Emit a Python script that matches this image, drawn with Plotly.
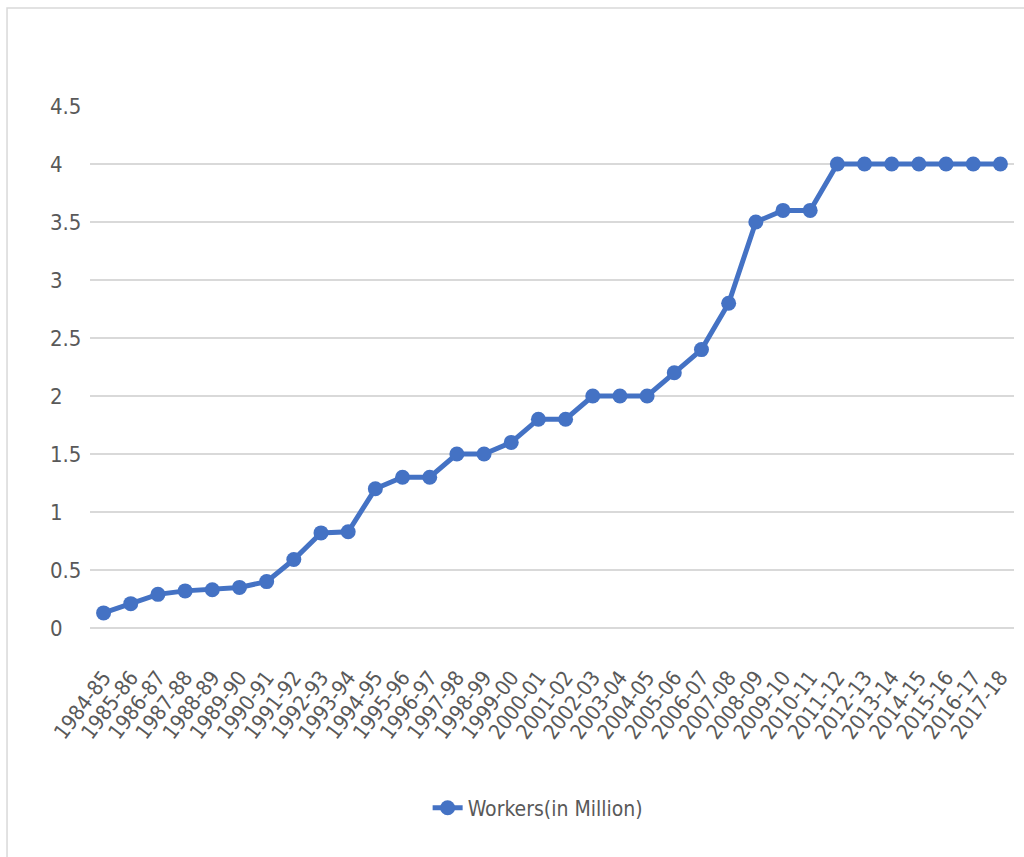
import plotly.graph_objects as go

years = ["1984-85", "1985-86", "1986-87", "1987-88", "1988-89", "1989-90", "1990-91",
         "1991-92", "1992-93", "1993-94", "1994-95", "1995-96", "1996-97", "1997-98",
         "1998-99", "1999-00", "2000-01", "2001-02", "2002-03", "2003-04", "2004-05",
         "2005-06", "2006-07", "2007-08", "2008-09", "2009-10", "2010-11", "2011-12",
         "2012-13", "2013-14", "2014-15", "2015-16", "2016-17", "2017-18"]
workers = [0.13, 0.21, 0.29, 0.32, 0.33, 0.35, 0.40, 0.59, 0.82, 0.83, 1.2, 1.3, 1.3, 1.5,
           1.5, 1.6, 1.8, 1.8, 2.0, 2.0, 2.0, 2.2, 2.4, 2.8, 3.5, 3.6, 3.6, 4.0,
           4.0, 4.0, 4.0, 4.0, 4.0, 4.0]
y_ticks = [0, 0.5, 1, 1.5, 2, 2.5, 3, 3.5, 4, 4.5]
y_tick_text = ["0", "0.5", "1", "1.5", "2", "2.5", "3", "3.5", "4", "4.5"]

blue = "#4472C4"
text_color = "#595959"
font_family = "DejaVu Sans Condensed, Liberation Sans Narrow, Roboto, sans-serif"

fig = go.Figure()
fig.add_trace(go.Scatter(
    x=years, y=workers, mode="lines+markers", name="Workers(in Million)",
    line=dict(color=blue, width=5),
    marker=dict(color=blue, size=15, symbol="circle"),
))

# left-aligned y tick labels (as in the reference)
annotations = [
    dict(x=-0.0455, xref="paper", y=v, yref="y", text=t, showarrow=False,
         xanchor="left", yanchor="middle",
         font=dict(family=font_family, size=22, color=text_color))
    for v, t in zip(y_ticks, y_tick_text)
]

fig.update_layout(
    width=1024, height=857,
    margin=dict(l=90, r=10, t=106, b=229),
    paper_bgcolor="white", plot_bgcolor="white",
    font=dict(family=font_family, color=text_color, size=20),
    showlegend=True,
    legend=dict(orientation="h", x=0.485, xanchor="center", y=-0.345, yanchor="middle",
                font=dict(size=21, color=text_color)),
    xaxis=dict(type="category", categoryorder="array", categoryarray=years,
               tickmode="array", tickvals=years, ticktext=years,
               range=[-0.5, len(years) - 0.5], showgrid=False, showline=False,
               tickangle=-53, tickfont=dict(size=21, color=text_color), ticks="",
               ticklabelstandoff=32),
    yaxis=dict(range=[0, 4.5], tickvals=y_ticks, showticklabels=False,
               showgrid=True, gridcolor="#d9d9d9", gridwidth=1.5,
               zeroline=True, zerolinecolor="#d9d9d9", zerolinewidth=1.5,
               showline=False, ticks=""),
    annotations=annotations,
    shapes=[dict(type="rect", xref="paper", yref="paper",
                 x0=-0.0898, x1=1.05, y0=-0.5, y1=1.1877,
                 line=dict(color="#d9d9d9", width=1.5), layer="below")],
)

fig.write_html("out.html")
